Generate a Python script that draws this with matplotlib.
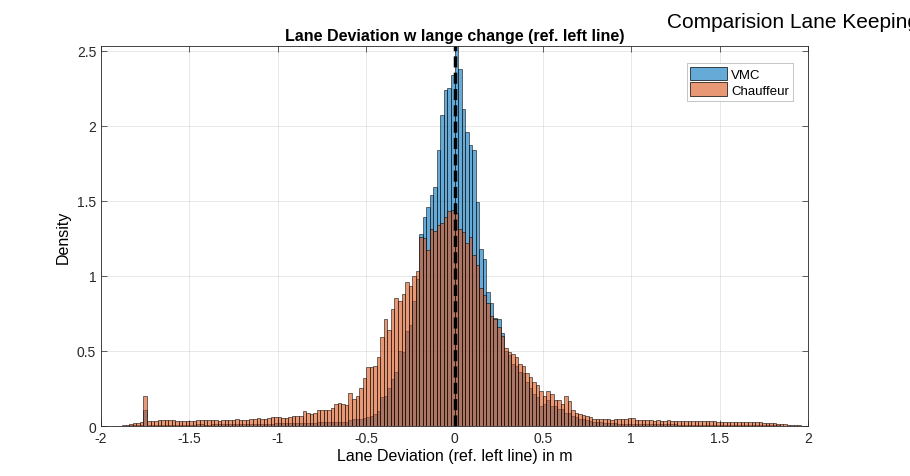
import numpy as np
import matplotlib
matplotlib.use("Agg")
import matplotlib.pyplot as plt
from matplotlib.patches import Patch

plt.rcParams["font.family"] = ["Liberation Sans", "DejaVu Sans"]

# Histogram bins: -2 .. 2 in steps of 0.02 (200 bins)
bin_edges = np.linspace(-2, 2, 201)

# Density per bin (VMC = blue)
vmc = [
    0, 0, 0, 0, 0, 0.001, 0.002, 0.003, 0.004, 0.005,
    0.006, 0.008, 0.110, 0.008, 0.008, 0.009, 0.009, 0.010, 0.010, 0.009,
    0.009, 0.009, 0.010, 0.010, 0.009, 0.010, 0.010, 0.011, 0.011, 0.010,
    0.010, 0.011, 0.011, 0.012, 0.012, 0.011, 0.012, 0.013, 0.013, 0.012,
    0.013, 0.013, 0.014, 0.014, 0.015, 0.014, 0.015, 0.016, 0.016, 0.017,
    0.017, 0.018, 0.018, 0.019, 0.020, 0.020, 0.021, 0.022, 0.022, 0.023,
    0.023, 0.024, 0.025, 0.025, 0.026, 0.027, 0.027, 0.028, 0.027, 0.030,
    0.040, 0.045, 0.045, 0.050, 0.052, 0.060, 0.070, 0.080, 0.100, 0.190,
    0.200, 0.250, 0.310, 0.360, 0.500, 0.490, 0.630, 0.670, 0.830, 0.980,
    1.280, 1.390, 1.460, 1.540, 1.590, 1.840, 2.070, 2.240, 2.250, 2.340,
    2.600, 2.380, 2.110, 1.960, 1.870, 1.840, 1.490, 1.180, 1.110, 0.890,
    0.820, 0.720, 0.710, 0.620, 0.500, 0.470, 0.410, 0.400, 0.360, 0.350,
    0.290, 0.250, 0.210, 0.190, 0.135, 0.147, 0.170, 0.135, 0.135, 0.113,
    0.113, 0.090, 0.090, 0.070, 0.060, 0.050, 0.045, 0.040, 0.035, 0.030,
    0.027, 0.025, 0.022, 0.020, 0.018, 0.017, 0.016, 0.015, 0.015, 0.014,
    0.014, 0.013, 0.013, 0.013, 0.012, 0.012, 0.012, 0.012, 0.011, 0.011,
    0.011, 0.011, 0.011, 0.010, 0.010, 0.010, 0.010, 0.010, 0.010, 0.009,
    0.009, 0.009, 0.009, 0.009, 0.009, 0.008, 0.008, 0.008, 0.008, 0.008,
    0.007, 0.007, 0.007, 0.007, 0.006, 0.006, 0.006, 0.005, 0.005, 0.005,
    0.004, 0.004, 0.003, 0.003, 0.002, 0.002, 0.001, 0.001, 0.001, 0.0,
]

# Chauffeur = orange
chauffeur = [
    0, 0, 0, 0, 0.001, 0.003, 0.006, 0.010, 0.015, 0.020,
    0.022, 0.025, 0.200, 0.033, 0.035, 0.036, 0.038, 0.040, 0.040, 0.038,
    0.037, 0.036, 0.035, 0.035, 0.034, 0.033, 0.035, 0.037, 0.038, 0.040,
    0.039, 0.038, 0.037, 0.036, 0.040, 0.039, 0.037, 0.040, 0.045, 0.043,
    0.040, 0.042, 0.044, 0.050, 0.053, 0.050, 0.050, 0.052, 0.057, 0.060,
    0.058, 0.055, 0.056, 0.060, 0.070, 0.066, 0.070, 0.100, 0.085, 0.083,
    0.090, 0.105, 0.107, 0.108, 0.105, 0.120, 0.145, 0.150, 0.147, 0.140,
    0.220, 0.180, 0.200, 0.250, 0.320, 0.390, 0.390, 0.400, 0.460, 0.590,
    0.710, 0.640, 0.780, 0.850, 0.830, 0.880, 0.960, 0.930, 1.000, 1.030,
    1.260, 1.250, 1.175, 1.310, 1.300, 1.340, 1.350, 1.390, 1.430, 1.440,
    1.420, 1.310, 1.290, 1.220, 1.260, 1.140, 1.070, 0.920, 0.870, 0.820,
    0.730, 0.710, 0.660, 0.600, 0.520, 0.490, 0.480, 0.457, 0.410, 0.400,
    0.350, 0.325, 0.290, 0.270, 0.235, 0.200, 0.230, 0.213, 0.175, 0.170,
    0.147, 0.200, 0.165, 0.105, 0.090, 0.080, 0.072, 0.068, 0.058, 0.050,
    0.047, 0.045, 0.046, 0.044, 0.042, 0.050, 0.050, 0.048, 0.050, 0.052,
    0.055, 0.040, 0.040, 0.038, 0.040, 0.037, 0.036, 0.038, 0.036, 0.035,
    0.037, 0.035, 0.034, 0.036, 0.035, 0.034, 0.035, 0.033, 0.034, 0.033,
    0.034, 0.032, 0.031, 0.033, 0.030, 0.030, 0.030, 0.029, 0.028, 0.028,
    0.027, 0.027, 0.026, 0.026, 0.025, 0.025, 0.024, 0.023, 0.022, 0.020,
    0.018, 0.015, 0.013, 0.011, 0.009, 0.007, 0.005, 0.004, 0.002, 0.001,
]

series_names = ["VMC", "Chauffeur"]
xticks = [-2, -1.5, -1, -0.5, 0, 0.5, 1, 1.5, 2]
yticks = [0, 0.5, 1, 1.5, 2, 2.5]

# MATLAB default colours with FaceAlpha 0.6
blue = (0.0, 0.447, 0.741, 0.6)
orange = (0.85, 0.325, 0.098, 0.6)

fig = plt.figure(figsize=(9.1, 4.77), dpi=100)
ax = fig.add_axes([0.111, 0.1048, 0.777, 0.797])

ax.bar(bin_edges[:-1], vmc, width=0.02, align="edge",
       facecolor=blue, edgecolor=(0, 0, 0, 0.75), linewidth=0.5)
ax.bar(bin_edges[:-1], chauffeur, width=0.02, align="edge",
       facecolor=orange, edgecolor=(0, 0, 0, 0.75), linewidth=0.5)

ax.axvline(0, color="k", linestyle=(0, (3.2, 1.5)), linewidth=2.5)

ax.set_xlim(-2, 2)
ax.set_ylim(0, 2.533)
ax.set_xticks(xticks)
ax.set_xticklabels([f"{t:g}" for t in xticks])
ax.set_yticks(yticks)
ax.set_yticklabels([f"{t:g}" for t in yticks])
ax.tick_params(direction="in", top=True, right=True, labelsize=10,
               length=4, width=0.5, colors="#262626")
for s in ax.spines.values():
    s.set_color("#262626")
    s.set_linewidth(0.6)
ax.grid(True, color="#262626", alpha=0.15, linewidth=0.5)
ax.set_axisbelow(True)

ax.set_title("Lane Deviation w lange change (ref. left line)",
             fontsize=11.5, fontweight="bold", pad=4)
ax.set_xlabel("Lane Deviation (ref. left line) in m", fontsize=11.5, labelpad=2)
ax.set_ylabel("Density", fontsize=11.5, labelpad=4)

handles = [Patch(facecolor=blue, edgecolor="k", linewidth=0.5),
           Patch(facecolor=orange, edgecolor="k", linewidth=0.5)]
leg = ax.legend(handles, series_names, loc="upper right",
                bbox_to_anchor=(0.979, 0.955), borderaxespad=0,
                fontsize=9.5, fancybox=False, handlelength=2.8,
                handleheight=1.2, handletextpad=0.3, borderpad=0.3,
                labelspacing=0.1)
leg.get_frame().set_edgecolor("#aaaaaa")
leg.get_frame().set_linewidth(0.6)

fig.text(667 / 910, 1 - 23 / 477, "Comparision Lane Keeping",
         fontsize=15, ha="left", va="center")

fig.savefig("out.png", dpi=100)
